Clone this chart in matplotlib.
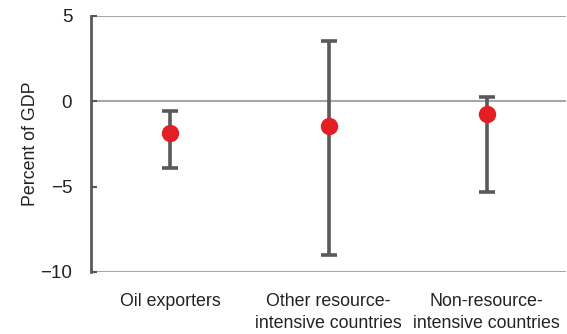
import matplotlib
matplotlib.use("Agg")
import matplotlib.pyplot as plt
from matplotlib import font_manager

categories = ["Oil exporters", "Other resource-\nintensive countries", "Non-resource-\nintensive countries"]
mean_values = [-1.83, -1.42, -0.74]
upper_values = [-0.55, 3.55, 0.26]
lower_values = [-3.9, -9.0, -5.3]
y_ticks = [5, 0, -5, -10]
y_tick_labels = ["5", "0", "\u22125", "\u221210"]

names = {f.name for f in font_manager.fontManager.ttflist}
family = ["Liberation Sans Narrow"] if "Liberation Sans Narrow" in names else ["Liberation Sans"]
plt.rcParams["font.family"] = family + ["DejaVu Sans"]

fig = plt.figure(figsize=(5.67, 3.34), dpi=100)
ax = fig.add_axes([91 / 567, 1 - 272 / 334, (566 - 91) / 567, (272 - 16) / 334])

x = list(range(len(categories)))
err_low = [m - lo for m, lo in zip(mean_values, lower_values)]
err_high = [hi - m for m, hi in zip(mean_values, upper_values)]

for yv in (5, 0, -10):
    ax.axhline(yv, color="#a6a6a6", lw=1.5, zorder=1)

ax.errorbar(x, mean_values, yerr=[err_low, err_high], fmt="none",
            ecolor="#595959", elinewidth=2.6, capsize=6, capthick=2.6, zorder=2)
ax.plot(x, mean_values, "o", color="#e31e24", markersize=11.5, zorder=3)

ax.set_xlim(-0.5, 2.5)
ax.set_ylim(-10, 5)
ax.set_yticks(y_ticks)
ax.set_yticklabels(y_tick_labels, fontsize=13.5, color="#222222")
ax.set_xticks(x)
ax.set_xticklabels(categories, fontsize=12.8, color="#222222", linespacing=1.4)
ax.tick_params(axis="x", length=0, pad=15)
ax.tick_params(axis="y", direction="in", length=4, width=1.5, color="#595959", pad=13.5)
ax.set_ylabel("Percent of GDP", fontsize=12.8, color="#222222", labelpad=1)

for s in ("top", "right", "bottom"):
    ax.spines[s].set_visible(False)
ax.spines["left"].set_color("#595959")
ax.spines["left"].set_linewidth(2)

fig.savefig("out.png", dpi=100)
